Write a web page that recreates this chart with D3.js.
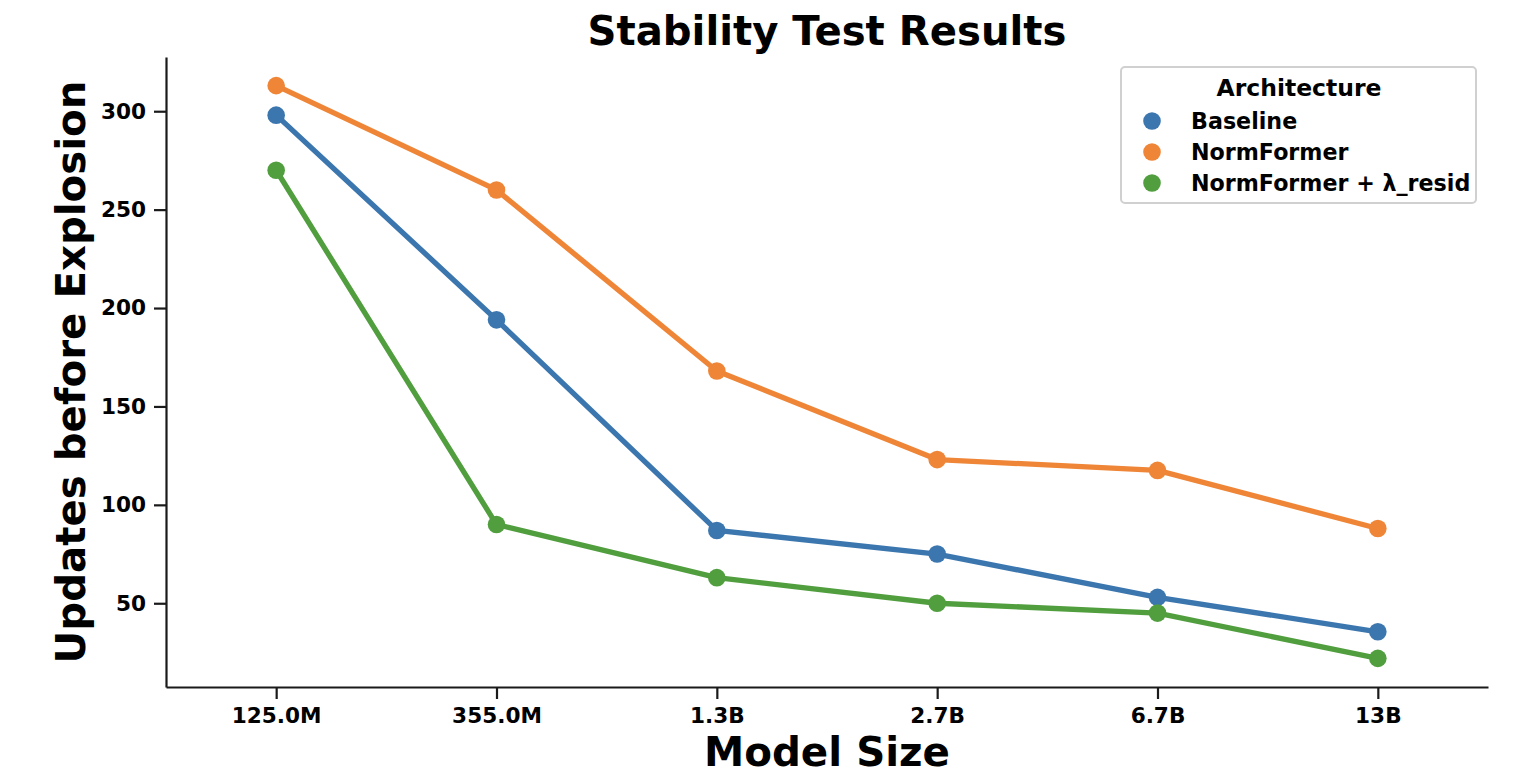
<!DOCTYPE html>
<html>
<head>
<meta charset="utf-8">
<script src="https://cdn.jsdelivr.net/npm/d3@7"></script>
<style>
  html, body { margin: 0; padding: 0; background: #fff; }
  svg { display: block; font-family: "DejaVu Sans", sans-serif; }
</style>
</head>
<body>
<svg id="chart" width="1520" height="778"></svg>
<script>
// ---- data ----
const categories = ["125.0M", "355.0M", "1.3B", "2.7B", "6.7B", "13B"];
const seriesNames = ["Baseline", "NormFormer", "NormFormer + λ_resid"];
const baselineValues = [298, 194, 87, 75, 53, 35.5];
const normformerValues = [313, 260, 168, 123, 117.5, 88];
const residValues = [270, 90, 63, 50, 45, 22];
const yTicks = [50, 100, 150, 200, 250, 300];
const colors = ["#3b76af", "#ef8536", "#519e3e"];

const seriesValues = [baselineValues, normformerValues, residValues];

// ---- layout ----
const svg = d3.select("#chart");
const plotLeft = 166, plotRight = 1488, plotTop = 57, plotBottom = 687;

const x = d3.scaleLinear().domain([-0.5, categories.length - 0.5]).range([plotLeft, plotRight]);
const allVals = seriesValues.flat();
const vmin = d3.min(allVals), vmax = d3.max(allVals);
const pad = (vmax - vmin) * 0.05;
const y = d3.scaleLinear().domain([vmin - pad, vmax + pad]).range([plotBottom, plotTop]);

// axes
const xAxis = d3.axisBottom(x)
  .tickValues(d3.range(categories.length))
  .tickFormat(i => categories[i])
  .tickSize(12).tickPadding(8).tickSizeOuter(0);
const yAxis = d3.axisLeft(y)
  .tickValues(yTicks)
  .tickSize(12).tickPadding(8).tickSizeOuter(0);

const gx = svg.append("g").attr("transform", `translate(0,${plotBottom})`).call(xAxis);
const gy = svg.append("g").attr("transform", `translate(${plotLeft},0)`).call(yAxis);

[gx, gy].forEach(g => {
  g.select(".domain").attr("stroke", "#1a1a1a").attr("stroke-width", 2.2);
  g.selectAll(".tick line").attr("stroke", "#1a1a1a").attr("stroke-width", 2.2);
  g.selectAll(".tick text")
    .attr("fill", "#000")
    .style("font-family", "DejaVu Sans")
    .style("font-weight", "bold")
    .style("font-size", "21.6px");
});
gx.selectAll(".tick text").attr("dy", "0.72em");

// lines and points
const line = d3.line().x((d, i) => x(i)).y(d => y(d));
seriesValues.forEach((vals, s) => {
  svg.append("path")
    .attr("d", line(vals))
    .attr("fill", "none")
    .attr("stroke", colors[s])
    .attr("stroke-width", 5.3)
    .attr("stroke-linejoin", "round")
    .attr("stroke-linecap", "round");
  svg.append("g").selectAll("circle")
    .data(vals)
    .join("circle")
    .attr("cx", (d, i) => x(i))
    .attr("cy", d => y(d))
    .attr("r", 8.8)
    .attr("fill", colors[s]);
});

// title & labels
svg.append("text")
  .attr("x", (plotLeft + plotRight) / 2).attr("y", 45)
  .attr("text-anchor", "middle")
  .style("font-weight", "bold").style("font-size", "40.2px")
  .text("Stability Test Results");

svg.append("text")
  .attr("x", (plotLeft + plotRight) / 2).attr("y", 766)
  .attr("text-anchor", "middle")
  .style("font-weight", "bold").style("font-size", "40.4px")
  .text("Model Size");

svg.append("text")
  .attr("transform", `translate(85,${(plotTop + plotBottom) / 2}) rotate(-90)`)
  .attr("text-anchor", "middle")
  .style("font-weight", "bold").style("font-size", "40.3px")
  .text("Updates before Explosion");

// legend
const lg = svg.append("g");
lg.append("rect")
  .attr("x", 1121).attr("y", 67).attr("width", 355).attr("height", 136)
  .attr("rx", 4).attr("ry", 4)
  .attr("fill", "#fff").attr("fill-opacity", 0.8)
  .attr("stroke", "#d0d0d0").attr("stroke-width", 2);
lg.append("text")
  .attr("x", 1299).attr("y", 96)
  .attr("text-anchor", "middle")
  .style("font-weight", "bold").style("font-size", "23.5px")
  .text("Architecture");
seriesNames.forEach((name, s) => {
  const cy = 121 + s * 31;
  lg.append("circle").attr("cx", 1152).attr("cy", cy).attr("r", 8.8).attr("fill", colors[s]);
  lg.append("text")
    .attr("x", 1191).attr("y", cy + 7.8)
    .style("font-weight", "bold").style("font-size", "22.2px")
    .text(name);
});
</script>
</body>
</html>
